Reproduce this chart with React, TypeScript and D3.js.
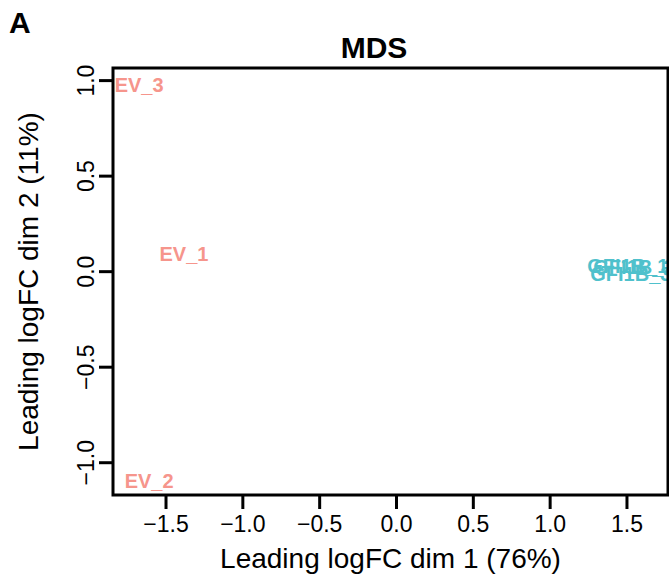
import React from "react";
import * as d3 from "d3";

const sampleLabels = ["EV_1", "EV_2", "EV_3", "GFI1B_1", "GFI1B_2", "GFI1B_3"];
const groups = ["EV", "EV", "EV", "GFI1B", "GFI1B", "GFI1B"];
const dim1 = [-1.383, -1.61, -1.675, 1.505, 1.545, 1.525];
const dim2 = [0.093, -1.096, 0.977, 0.032, 0.025, -0.012];
const xTicks = [-1.5, -1.0, -0.5, 0.0, 0.5, 1.0, 1.5];
const yTicks = [-1.0, -0.5, 0.0, 0.5, 1.0];
const groupNames = ["EV", "GFI1B"];
const groupColors = ["#F6958C", "#4FC1CC"];

const W = 669;
const H = 585;
const L = 113, R = 668, T = 68, B = 495;
const FONT = "'Liberation Sans', Arial, Helvetica, sans-serif";

export default function App() {
  const x = d3.scaleLinear().domain([-1.845, 1.767]).range([L, R]);
  const y = d3.scaleLinear().domain([-1.169, 1.066]).range([B, T]);
  const color = d3.scaleOrdinal<string, string>().domain(groupNames).range(groupColors);
  const fmt = (v: number) => d3.format(".1f")(v).replace("-", "\u2212");

  return (
    <svg width={W} height={H} style={{ position: "absolute", left: 0, top: 0, background: "#fff" }} fontFamily={FONT}>
      <rect x={0} y={0} width={W} height={H} fill="#fff" />
      <text x={9} y={33} fontSize={30} fontWeight="bold">A</text>
      <text x={374} y={58} fontSize={30} fontWeight="bold" textAnchor="middle">MDS</text>
      {sampleLabels.map((s, i) => (
        <text key={s} x={x(dim1[i])} y={y(dim2[i])} fontSize={20} fontWeight="bold"
          fill={color(groups[i])} textAnchor="middle" dominantBaseline="central">{s}</text>
      ))}
      <rect x={L} y={T} width={R - L} height={B - T} fill="none" stroke="#000" strokeWidth={3} />
      {xTicks.map((t) => (
        <g key={"x" + t}>
          <line x1={x(t)} x2={x(t)} y1={B} y2={B + 14} stroke="#000" strokeWidth={3} />
          <text x={x(t)} y={532} fontSize={23} textAnchor="middle">{fmt(t)}</text>
        </g>
      ))}
      {yTicks.map((t) => (
        <g key={"y" + t}>
          <line x1={L} x2={L - 14} y1={y(t)} y2={y(t)} stroke="#000" strokeWidth={3} />
          <text transform={`translate(94,${y(t)}) rotate(-90)`} fontSize={23} textAnchor="middle">{fmt(t)}</text>
        </g>
      ))}
      <text x={(L + R) / 2} y={568} fontSize={28} textAnchor="middle">Leading logFC dim 1 (76%)</text>
      <text transform={`translate(38,${(T + B) / 2}) rotate(-90)`} fontSize={28} textAnchor="middle">Leading logFC dim 2 (11%)</text>
    </svg>
  );
}
